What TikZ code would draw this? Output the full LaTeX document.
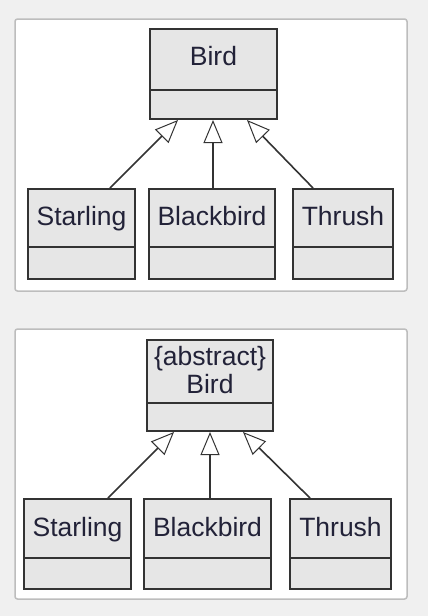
\documentclass[tikz,border=0pt]{standalone}
\usepackage{fontspec}
\setmainfont{Liberation Sans}
\usetikzlibrary{arrows.meta}
\definecolor{bg}{HTML}{F0F0F0}
\definecolor{panelline}{HTML}{BDBDBD}
\definecolor{boxfill}{HTML}{E6E6E6}
\definecolor{boxline}{HTML}{333333}
\definecolor{txtcol}{HTML}{222238}
\tikzset{
  panel/.style={draw=panelline, line width=1.5pt, fill=white, rounded corners=2.5pt},
  cls/.style={draw=boxline, line width=2pt, fill=boxfill, rectangle, inner sep=0pt},
  divider/.style={draw=boxline, line width=2pt},
  lbl/.style={text=txtcol, font=\fontsize{26.5}{27}\selectfont, anchor=base, inner sep=0pt},
  inherit/.style={draw=boxline, line width=1.6pt,
    -{Triangle[length=23pt, width=19pt, fill=white, line width=1pt]}},
}
\begin{document}
\begin{tikzpicture}[x=1pt,y=-1pt]
\useasboundingbox (0,0) rectangle (428,616);
\fill[bg] (0,0) rectangle (428,616);

% ---------- panel 1 ----------
\draw[panel] (15,19) rectangle (407,291);
\node[cls, minimum width=127pt, minimum height=90pt] (b1) at (213.5,74) {};
\draw[divider] (b1.west |- 0,90) -- (b1.east |- 0,90);
\node[lbl] (b1t) at (213.5,65.7) {Bird};

\node[cls, minimum width=107pt, minimum height=90pt] (s1) at (81.5,234) {};
\draw[divider] (s1.west |- 0,247) -- (s1.east |- 0,247);
\node[lbl] (s1t) at (81.5,225) {Starling};

\node[cls, minimum width=126pt, minimum height=90pt] (k1) at (212,234) {};
\draw[divider] (k1.west |- 0,247) -- (k1.east |- 0,247);
\node[lbl] (k1t) at (212,225) {Blackbird};

\node[cls, minimum width=100pt, minimum height=90pt] (t1) at (343,234) {};
\draw[divider] (t1.west |- 0,247) -- (t1.east |- 0,247);
\node[lbl] (t1t) at (343,225) {Thrush};

\draw[inherit] ([xshift=28.5pt]s1.north) -- ([xshift=-35.5pt]b1.south);
\draw[inherit] ([xshift=1pt]k1.north) -- ([xshift=-0.5pt]b1.south);
\draw[inherit] ([xshift=-30pt]t1.north) -- ([xshift=33.5pt]b1.south);

% ---------- panel 2 ----------
\draw[panel] (15,329) rectangle (407,599);
\node[cls, minimum width=126pt, minimum height=91pt] (b2) at (210,385.5) {};
\draw[divider] (b2.west |- 0,403) -- (b2.east |- 0,403);
\node[lbl] (b2a) at (210,365.5) {\{abstract\}};
\node[lbl] (b2t) at (210,393) {Bird};

\node[cls, minimum width=107pt, minimum height=90pt] (s2) at (77.5,544) {};
\draw[divider] (s2.west |- 0,558) -- (s2.east |- 0,558);
\node[lbl] (s2t) at (77.5,536) {Starling};

\node[cls, minimum width=127pt, minimum height=90pt] (k2) at (207.5,544) {};
\draw[divider] (k2.west |- 0,558) -- (k2.east |- 0,558);
\node[lbl] (k2t) at (207.5,536) {Blackbird};

\node[cls, minimum width=101pt, minimum height=90pt] (t2) at (340.5,544) {};
\draw[divider] (t2.west |- 0,558) -- (t2.east |- 0,558);
\node[lbl] (t2t) at (340.5,536) {Thrush};

\draw[inherit] ([xshift=30.5pt]s2.north) -- ([xshift=-36pt]b2.south);
\draw[inherit] ([xshift=2.5pt]k2.north) -- (b2.south);
\draw[inherit] ([xshift=-30.5pt]t2.north) -- ([xshift=33pt]b2.south);
\end{tikzpicture}
\end{document}
